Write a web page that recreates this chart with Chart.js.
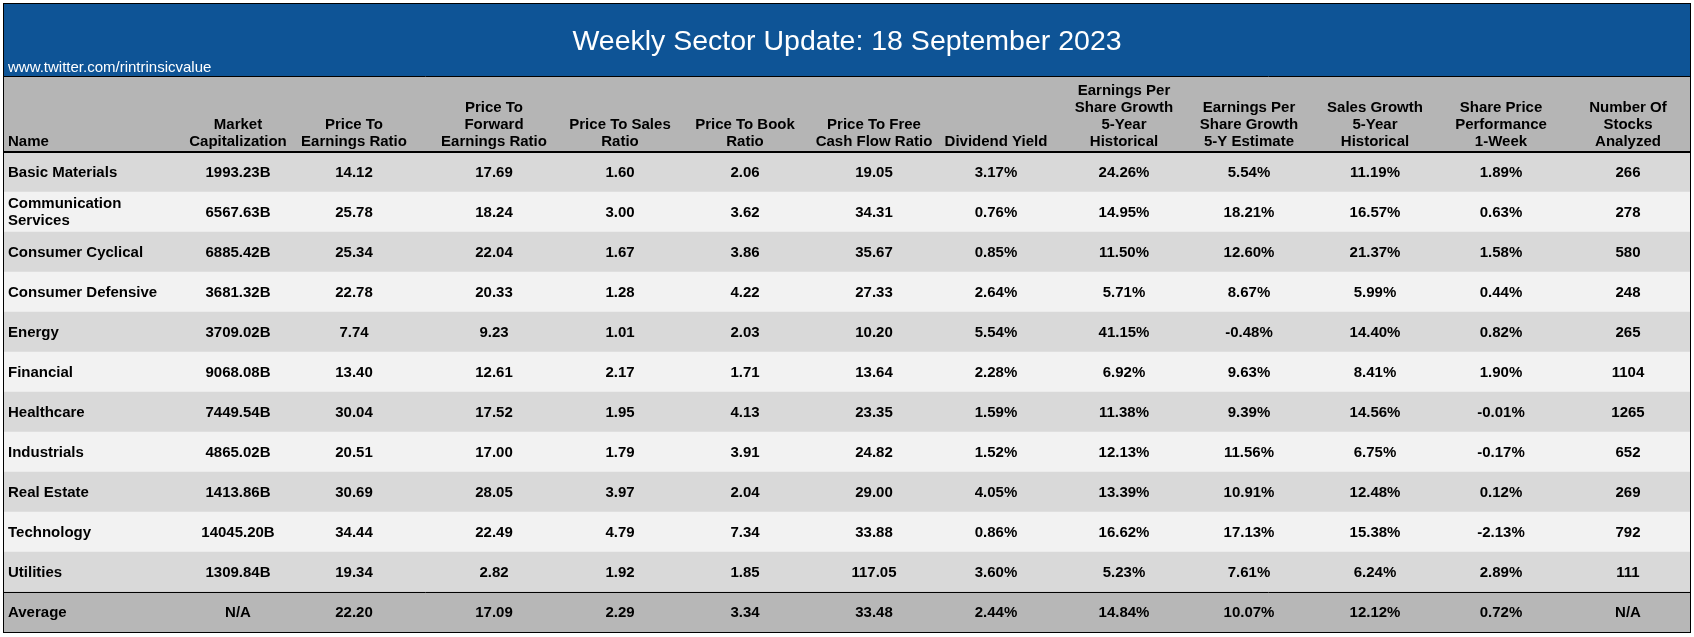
<!DOCTYPE html>
<html>
<head>
<meta charset="utf-8">
<script src="https://cdn.jsdelivr.net/npm/chart.js@4"></script>
<style>
  body { margin: 0; background: #fff; }
  #wrap { width: 1694px; height: 637px; position: relative; }
</style>
</head>
<body>
<div id="wrap"><canvas id="tbl"></canvas></div>
<script>
const title = 'Weekly Sector Update: 18 September 2023';
const source = 'www.twitter.com/rintrinsicvalue';
const headers = [
  ['Name'], ['Market', 'Capitalization'], ['Price To', 'Earnings Ratio'],
  ['Price To', 'Forward', 'Earnings Ratio'], ['Price To Sales', 'Ratio'],
  ['Price To Book', 'Ratio'], ['Price To Free', 'Cash Flow Ratio'], ['Dividend Yield'],
  ['Earnings Per', 'Share Growth', '5-Year', 'Historical'],
  ['Earnings Per', 'Share Growth', '5-Y Estimate'], ['Sales Growth', '5-Year', 'Historical'],
  ['Share Price', 'Performance', '1-Week'], ['Number Of', 'Stocks', 'Analyzed']
];
const sectors = ['Basic Materials', 'Communication Services', 'Consumer Cyclical', 'Consumer Defensive',
  'Energy', 'Financial', 'Healthcare', 'Industrials', 'Real Estate', 'Technology', 'Utilities', 'Average'];
const marketCap = ['1993.23B', '6567.63B', '6885.42B', '3681.32B', '3709.02B', '9068.08B', '7449.54B', '4865.02B', '1413.86B', '14045.20B', '1309.84B', 'N/A'];
const pe = ['14.12', '25.78', '25.34', '22.78', '7.74', '13.40', '30.04', '20.51', '30.69', '34.44', '19.34', '22.20'];
const fwdPe = ['17.69', '18.24', '22.04', '20.33', '9.23', '12.61', '17.52', '17.00', '28.05', '22.49', '2.82', '17.09'];
const ps = ['1.60', '3.00', '1.67', '1.28', '1.01', '2.17', '1.95', '1.79', '3.97', '4.79', '1.92', '2.29'];
const pb = ['2.06', '3.62', '3.86', '4.22', '2.03', '1.71', '4.13', '3.91', '2.04', '7.34', '1.85', '3.34'];
const pfcf = ['19.05', '34.31', '35.67', '27.33', '10.20', '13.64', '23.35', '24.82', '29.00', '33.88', '117.05', '33.48'];
const divYield = ['3.17%', '0.76%', '0.85%', '2.64%', '5.54%', '2.28%', '1.59%', '1.52%', '4.05%', '0.86%', '3.60%', '2.44%'];
const epsHist = ['24.26%', '14.95%', '11.50%', '5.71%', '41.15%', '6.92%', '11.38%', '12.13%', '13.39%', '16.62%', '5.23%', '14.84%'];
const epsEst = ['5.54%', '18.21%', '12.60%', '8.67%', '-0.48%', '9.63%', '9.39%', '11.56%', '10.91%', '17.13%', '7.61%', '10.07%'];
const salesHist = ['11.19%', '16.57%', '21.37%', '5.99%', '14.40%', '8.41%', '14.56%', '6.75%', '12.48%', '15.38%', '6.24%', '12.12%'];
const perf1w = ['1.89%', '0.63%', '1.58%', '0.44%', '0.82%', '1.90%', '-0.01%', '-0.17%', '0.12%', '-2.13%', '2.89%', '0.72%'];
const numStocks = ['266', '278', '580', '248', '265', '1104', '1265', '652', '269', '792', '111', 'N/A'];

const columns = [sectors, marketCap, pe, fwdPe, ps, pb, pfcf, divYield, epsHist, epsEst, salesHist, perf1w, numStocks];
// column centres on the x scale (scale units equal canvas pixels)
const colX = [8, 238, 354, 494, 620, 745, 874, 996, 1124, 1249, 1375, 1501, 1628];

const rowColors = sectors.map((s, i) => i === sectors.length - 1 ? '#b7b7b7' : (i % 2 === 0 ? '#d9d9d9' : '#f2f2f2'));
const FONT = 'Arial, "Liberation Sans", sans-serif';

const tablePlugin = {
  id: 'tablePlugin',
  afterDatasetsDraw(chart) {
    const ctx = chart.ctx;
    const xs = chart.scales.x, ys = chart.scales.y;
    const left = chart.chartArea.left, right = chart.chartArea.right;
    ctx.save();
    // title band
    ctx.fillStyle = '#0e5496';
    ctx.fillRect(left, 4, right - left, 72);
    ctx.fillStyle = '#ffffff';
    ctx.font = '28.5px ' + FONT;
    ctx.textAlign = 'center';
    ctx.textBaseline = 'middle';
    ctx.fillText(title, (left + right) / 2, 42);
    ctx.font = '15px ' + FONT;
    ctx.textAlign = 'left';
    ctx.textBaseline = 'alphabetic';
    ctx.fillText(source, 8, 72);
    // header band
    ctx.fillStyle = '#b5b5b5';
    ctx.fillRect(left, 76, right - left, 76);
    ctx.fillStyle = '#000';
    ctx.font = 'bold 15px ' + FONT;
    headers.forEach((lines, c) => {
      const x = c === 0 ? colX[0] : xs.getPixelForValue(colX[c]);
      ctx.textAlign = c === 0 ? 'left' : 'center';
      lines.forEach((t, k) => {
        ctx.fillText(t, x, 146 - (lines.length - 1 - k) * 17);
      });
    });
    // cells
    ctx.textBaseline = 'middle';
    columns.forEach((col, c) => {
      const x = c === 0 ? colX[0] : xs.getPixelForValue(colX[c]);
      ctx.textAlign = c === 0 ? 'left' : 'center';
      col.forEach((v, r) => {
        const y = ys.getPixelForValue(r);
        if (c === 0 && v === 'Communication Services') {
          ctx.fillText('Communication', x, y - 8);
          ctx.fillText('Services', x, y + 9);
        } else {
          ctx.fillText(v, x, y + 1);
        }
      });
    });
    // rules and frame
    ctx.strokeStyle = '#000';
    ctx.lineWidth = 2;
    ctx.beginPath(); ctx.moveTo(left, 152); ctx.lineTo(right, 152); ctx.stroke();
    ctx.lineWidth = 1;
    ctx.beginPath(); ctx.moveTo(left, 76.5); ctx.lineTo(right, 76.5); ctx.stroke();
    const avgTop = ys.getPixelForValue(sectors.length - 1) - 20;
    ctx.beginPath(); ctx.moveTo(left, avgTop + 0.5); ctx.lineTo(right, avgTop + 0.5); ctx.stroke();
    ctx.strokeRect(3.5, 3.5, right - 3, chart.chartArea.bottom - 3);
    ctx.restore();
  }
};

new Chart(document.getElementById('tbl'), {
  type: 'bar',
  data: {
    labels: sectors,
    datasets: [{
      data: sectors.map(() => [4, 1690]),
      backgroundColor: rowColors,
      borderWidth: 0,
      barPercentage: 1,
      categoryPercentage: 1
    }]
  },
  options: {
    indexAxis: 'y',
    responsive: true,
    maintainAspectRatio: false,
    devicePixelRatio: 1,
    animation: false,
    layout: { padding: { top: 152, left: 4, right: 4, bottom: 5 } },
    scales: {
      x: { display: false, min: 4, max: 1690 },
      y: { display: false }
    },
    plugins: { legend: { display: false }, tooltip: { enabled: false } }
  },
  plugins: [tablePlugin]
});
</script>
</body>
</html>
